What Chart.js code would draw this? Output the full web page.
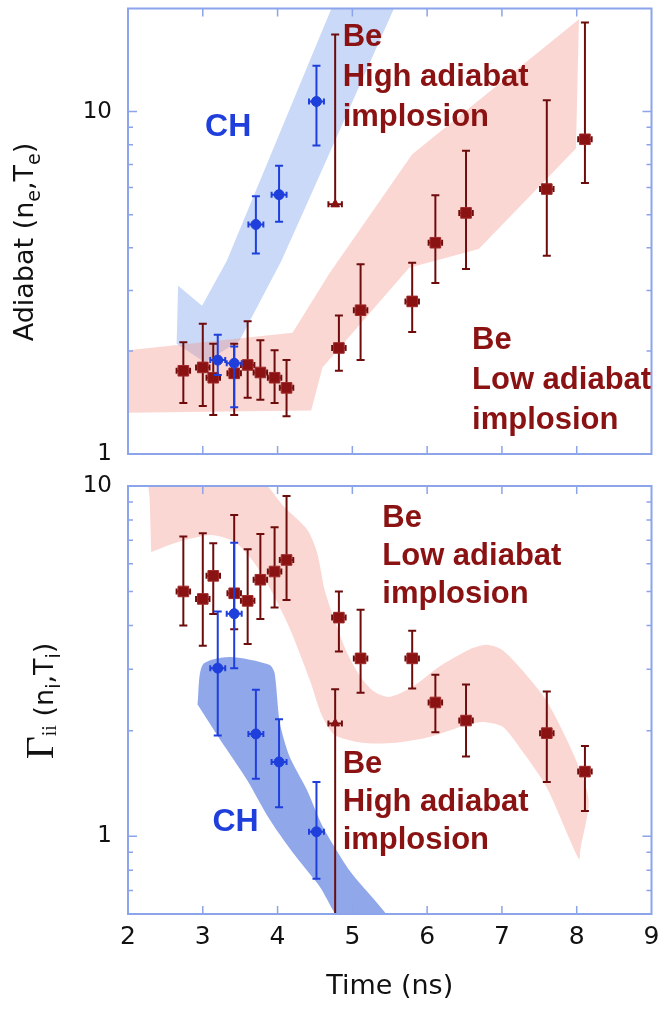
<!DOCTYPE html>
<html>
<head>
<meta charset="utf-8">
<script src="https://cdn.jsdelivr.net/npm/chart.js@4.4.1/dist/chart.umd.min.js"></script>
<style>
  html, body { margin: 0; padding: 0; background: #fff; }
  #wrap { position: relative; width: 660px; height: 1017px; }
  canvas { position: absolute; left: 0; }
</style>
</head>
<body>
<div id="wrap">
  <canvas id="adiabatChart" width="660" height="470" style="top:0"></canvas>
  <canvas id="gammaChart" width="660" height="547" style="top:470px"></canvas>
</div>
<script>
// ---- data ----
const beLowTime = [2.74, 3.0, 3.14, 3.42, 3.6, 3.77, 3.96, 4.12, 4.82, 5.11, 5.8, 6.11, 6.52, 7.6, 8.11];
const beLowAdiabat = [1.75, 1.79, 1.67, 1.72, 1.82, 1.73, 1.67, 1.56, 2.04, 2.63, 2.79, 4.14, 5.06, 5.94, 8.3];
const beLowAdiabatHi = [2.12, 2.4, 2.1, 2.1, 2.44, 2.15, 2.01, 1.88, 2.54, 3.58, 3.62, 5.7, 7.69, 10.8, 18.2];
const beLowAdiabatLo = [1.41, 1.38, 1.3, 1.3, 1.46, 1.44, 1.41, 1.29, 1.75, 1.88, 2.27, 3.16, 3.47, 3.79, 6.19];
const beLowGamma = [5.0, 4.76, 5.54, 4.94, 4.7, 5.4, 5.7, 6.15, 4.21, 3.22, 3.22, 2.41, 2.14, 1.97, 1.53];
const beLowGammaHi = [7.17, 7.33, 6.86, 8.26, 6.6, 7.3, 7.62, 9.36, 5.0, 4.43, 3.86, 2.89, 2.71, 2.59, 1.81];
const beLowGammaLo = [4.0, 3.5, 4.31, 3.9, 3.54, 4.17, 4.5, 4.73, 3.37, 2.57, 2.64, 1.98, 1.69, 1.43, 1.18];

const chTime = [3.2, 3.42, 3.71, 4.02, 4.52];
const chAdiabat = [1.88, 1.84, 4.68, 5.72, 10.7];
const chAdiabatHi = [2.23, 2.06, 5.66, 6.95, 13.6];
const chAdiabatLo = [1.7, 1.37, 3.85, 4.77, 7.96];
const chGamma = [3.02, 4.32, 1.96, 1.63, 1.03];
const chGammaHi = [4.38, 6.89, 2.62, 2.16, 1.43];
const chGammaLo = [1.94, 3.02, 1.46, 1.21, 0.757];

const beHighTime = [4.77];
const beHighAdiabat = [5.36];
const beHighAdiabatHi = [16.8];
const beHighAdiabatLo = [5.3];
const beHighGamma = [2.1];
const beHighGammaHi = [2.63];
const beHighGammaLo = [0.4];

// shaded simulation bands (outline, time / value)
const chBandAdiabatT = [4.76, 5.6, 4.29, 4.05, 3.49, 3.03, 2.65, 2.67, 2.99, 3.32];
const chBandAdiabatV = [21, 21, 4.79, 3.66, 2.14, 1.85, 2.1, 3.1, 2.71, 3.66];
const beBandAdiabatT = [1.9, 4.2, 4.69, 5.8, 8.03, 7.99, 6.69, 5.76, 4.6, 4.45, 1.9];
const beBandAdiabatV = [2.0, 2.26, 3.36, 7.5, 18.6, 7.8, 3.97, 3.5, 1.79, 1.34, 1.32];
const chBandGammaT = [2.93, 3.0, 3.36, 3.89, 3.96, 4.03, 4.16, 4.39, 4.6, 4.96, 5.55, 4.92, 4.56, 4.2, 3.89, 3.59, 3.23];
const chBandGammaV = [2.38, 3.09, 3.25, 3.09, 2.93, 2.11, 1.69, 1.36, 1.07, 0.8, 0.55, 0.55, 0.72, 0.9, 1.12, 1.45, 1.89];
const beBandGammaT = [2.29, 2.3, 3.73, 4.09, 4.4, 4.53, 4.63, 4.76, 4.93, 5.11, 5.29, 5.49, 5.8, 6.16, 6.56, 6.79, 7.0, 7.23, 7.59, 7.96, 8.16, 8.05,
  8.03, 7.59, 7.19, 7.0, 6.73, 6.47, 6.03, 5.59, 5.13, 4.76, 4.59, 4.43, 4.17, 3.91, 3.69, 3.43, 3.11, 2.67, 2.31];
const beBandGammaV = [9.12, 10.5, 10.5, 8.71, 7.49, 6.44, 5.05, 4.15, 3.34, 2.85, 2.59, 2.5, 2.67, 3.05, 3.41, 3.52, 3.41, 3.05, 2.45, 1.71, 1.27, 0.92,
  0.86, 1.39, 1.85, 2.06, 2.12, 2.06, 1.92, 1.85, 1.85, 1.95, 2.22, 2.8, 3.89, 5.05, 6.03, 6.92, 7.25, 6.92, 6.48];

const timeTicks = [2, 3, 4, 5, 6, 7, 8, 9];
const adiabatTicks = [1, 2, 3, 4, 5, 6, 7, 8, 9, 10, 20];
const gammaTicks = [0.6, 0.7, 0.8, 0.9, 1, 2, 3, 4, 5, 6, 7, 8, 9, 10];
const labelledTicks = [1, 10];

const RED = "#8a1212";
const RED_BAR = "#6e0c0c";
const BLUE = "#1f3fdc";
const FRAME = "#8ca4ea";

const noteFont = "bold 31px 'Liberation Sans', Arial, sans-serif";
const chFont = "bold 32px 'Liberation Sans', Arial, sans-serif";
const titleFont = "27px 'DejaVu Sans', sans-serif";
const subFont = "19px 'DejaVu Sans', sans-serif";

const adiabatNotes = [
    { lines: ["Be", "High adiabat", "implosion"], x: 4.87, y: 15.5, step: 40, color: RED, font: noteFont },
    { lines: ["CH"], x: 3.03, y: 8.46, step: 0, color: BLUE, font: chFont },
    { lines: ["Be", "Low adiabat", "implosion"], x: 6.6, y: 2.03, step: 40, color: RED, font: noteFont }
];
const gammaNotes = [
    { lines: ["Be", "Low adiabat", "implosion"], x: 5.4, y: 7.64, step: 38, color: RED, font: noteFont },
    { lines: ["Be", "High adiabat", "implosion"], x: 4.87, y: 1.52, step: 38, color: RED, font: noteFont },
    { lines: ["CH"], x: 3.13, y: 1.038, step: 0, color: BLUE, font: chFont }
];
const adiabatTitle = [
    { text: "Adiabat (n", font: titleFont },
    { text: "e", font: subFont, shift: 7 },
    { text: ",T", font: titleFont },
    { text: "e", font: subFont, shift: 7 },
    { text: ")", font: titleFont }
];
const gammaTitle = [
    { text: "\u0393", font: "40px 'Liberation Serif', serif" },
    { text: "ii", font: "20px 'Liberation Serif', serif", shift: 3 },
    { text: " (n", font: titleFont },
    { text: "i", font: subFont, shift: 7 },
    { text: ",T", font: titleFont },
    { text: "i", font: subFont, shift: 7 },
    { text: ")", font: titleFont }
];

function points(xs, ys) {
    return xs.map((x, i) => ({ x: x, y: ys[i] }));
}

const errorBars = {
    id: "errorBars",
    beforeDatasetDraw(chart, args) {
        const ds = chart.data.datasets[args.index];
        if (!ds.yLo) return;
        const { ctx, chartArea, scales } = chart;
        const x = scales.x, y = scales.y;
        ctx.save();
        ctx.beginPath();
        ctx.rect(chartArea.left, chartArea.top, chartArea.width, chartArea.height);
        ctx.clip();
        ctx.strokeStyle = ds.errColor;
        ctx.lineWidth = 2;
        ds.data.forEach((p, i) => {
            const px = x.getPixelForValue(p.x);
            const py = y.getPixelForValue(p.y);
            const top = y.getPixelForValue(ds.yHi[i]);
            const bot = y.getPixelForValue(ds.yLo[i]);
            const left = x.getPixelForValue(p.x - ds.xErr);
            const right = x.getPixelForValue(p.x + ds.xErr);
            ctx.beginPath();
            ctx.moveTo(px, top); ctx.lineTo(px, bot);
            ctx.moveTo(px - 4, top); ctx.lineTo(px + 4, top);
            ctx.moveTo(px - 4, bot); ctx.lineTo(px + 4, bot);
            ctx.moveTo(left, py); ctx.lineTo(right, py);
            ctx.moveTo(left, py - 3); ctx.lineTo(left, py + 3);
            ctx.moveTo(right, py - 3); ctx.lineTo(right, py + 3);
            ctx.stroke();
        });
        ctx.restore();
    }
};

function drawRotatedTitle(ctx, parts, baseX, centerY) {
    const widths = parts.map(p => { ctx.font = p.font; return ctx.measureText(p.text).width; });
    const total = widths.reduce((s, w) => s + w, 0);
    ctx.save();
    ctx.translate(baseX, centerY);
    ctx.rotate(-Math.PI / 2);
    ctx.fillStyle = "#111";
    ctx.textAlign = "left";
    ctx.textBaseline = "alphabetic";
    let cx = -total / 2;
    parts.forEach((p, i) => {
        ctx.font = p.font;
        ctx.fillText(p.text, cx, p.shift || 0);
        cx += widths[i];
    });
    ctx.restore();
}

// frame with inward ticks, notes and the axis title
function makeDecorations(yTicks, notes, title, titleX, titleY) {
    return {
        id: "decorations",
        afterDatasetsDraw(chart) {
            const { ctx, chartArea: a, scales } = chart;
            ctx.save();
            ctx.strokeStyle = FRAME;
            ctx.lineWidth = 1.5;
            ctx.beginPath();
            timeTicks.slice(1, -1).forEach(t => {
                const px = scales.x.getPixelForValue(t);
                ctx.moveTo(px, a.top); ctx.lineTo(px, a.top + 8);
                ctx.moveTo(px, a.bottom); ctx.lineTo(px, a.bottom - 8);
            });
            yTicks.forEach(v => {
                if (v <= scales.y.min || v >= scales.y.max) return;
                const py = scales.y.getPixelForValue(v);
                const len = labelledTicks.includes(v) ? 9 : 5;
                ctx.moveTo(a.left, py); ctx.lineTo(a.left + len, py);
                ctx.moveTo(a.right, py); ctx.lineTo(a.right - len, py);
            });
            ctx.stroke();
            ctx.lineWidth = 2;
            ctx.strokeRect(a.left, a.top, a.width, a.height);
            ctx.restore();
        },
        afterDraw(chart) {
            const { ctx, scales } = chart;
            ctx.save();
            ctx.textBaseline = "alphabetic";
            ctx.textAlign = "left";
            notes.forEach(n => {
                const px = scales.x.getPixelForValue(n.x);
                const py = scales.y.getPixelForValue(n.y);
                ctx.fillStyle = n.color;
                ctx.font = n.font;
                n.lines.forEach((line, i) => ctx.fillText(line, px, py + i * n.step));
            });
            ctx.restore();
            drawRotatedTitle(ctx, title, titleX, titleY);
        }
    };
}

function bandDataset(xs, ys, color, tension) {
    return {
        data: points(xs, ys),
        fill: "shape",
        backgroundColor: color,
        borderWidth: 0,
        pointRadius: 0,
        tension: tension,
        order: 5
    };
}

function markerDatasets(vals, lo, hi, highVals, highLo, highHi, chVals, chLo, chHi) {
    return [
        {
            data: points(beLowTime, vals), yLo: lo, yHi: hi, xErr: 0.09, errColor: RED_BAR,
            showLine: false, pointStyle: "rect", pointRadius: 7.5,
            backgroundColor: RED, borderColor: "#a02a2a", borderWidth: 1, order: 1
        },
        {
            data: points(beHighTime, highVals), yLo: highLo, yHi: highHi, xErr: 0.09, errColor: RED_BAR,
            showLine: false, pointStyle: "triangle", pointRadius: 5,
            backgroundColor: RED, borderColor: RED, borderWidth: 1, order: 1
        },
        {
            data: points(chTime, chVals), yLo: chLo, yHi: chHi, xErr: 0.1, errColor: BLUE,
            showLine: false, pointStyle: "circle", pointRadius: 5,
            backgroundColor: BLUE, borderColor: BLUE, borderWidth: 1, order: 0
        }
    ];
}

function yScale(min, max, tickValues) {
    return {
        type: "logarithmic",
        min: min,
        max: max,
        afterBuildTicks: (scale) => { scale.ticks = tickValues.map(v => ({ value: v })); },
        afterFit: (scale) => {
            scale.width = 128;
            scale.paddingTop = 0;
            scale.paddingBottom = 0;
        },
        grid: { display: false, drawTicks: false },
        border: { display: false },
        ticks: {
            autoSkip: false,
            padding: 16,
            color: "#111",
            font: { family: "'DejaVu Sans', sans-serif", size: 23 },
            callback: (v) => labelledTicks.includes(v) ? String(v) : ""
        }
    };
}

Chart.defaults.animation = false;

new Chart(document.getElementById("adiabatChart"), {
    type: "line",
    data: {
        datasets: [
            bandDataset(beBandAdiabatT, beBandAdiabatV, "rgba(245,150,140,0.38)", 0),
            bandDataset(chBandAdiabatT, chBandAdiabatV, "rgba(120,160,235,0.4)", 0),
            ...markerDatasets(beLowAdiabat, beLowAdiabatLo, beLowAdiabatHi,
                beHighAdiabat, beHighAdiabatLo, beHighAdiabatHi, chAdiabat, chAdiabatLo, chAdiabatHi)
        ]
    },
    options: {
        responsive: false,
        devicePixelRatio: 1,
        layout: { padding: { top: 7, right: 7, bottom: 16, left: 0 } },
        scales: {
            x: { type: "linear", min: 2, max: 9, display: false },
            y: yScale(1, 20, adiabatTicks)
        },
        plugins: { legend: { display: false }, tooltip: { enabled: false } }
    },
    plugins: [errorBars, makeDecorations(adiabatTicks, adiabatNotes, adiabatTitle, 33, 242)]
});

new Chart(document.getElementById("gammaChart"), {
    type: "line",
    data: {
        datasets: [
            bandDataset(beBandGammaT, beBandGammaV, "rgba(245,150,140,0.38)", 0.25),
            bandDataset(chBandGammaT, chBandGammaV, "rgba(70,110,220,0.6)", 0.25),
            ...markerDatasets(beLowGamma, beLowGammaLo, beLowGammaHi,
                beHighGamma, beHighGammaLo, beHighGammaHi, chGamma, chGammaLo, chGammaHi)
        ]
    },
    options: {
        responsive: false,
        devicePixelRatio: 1,
        layout: { padding: { top: 16, right: 7, bottom: 0, left: 0 } },
        scales: {
            x: {
                type: "linear",
                min: 2,
                max: 9,
                afterBuildTicks: (scale) => { scale.ticks = timeTicks.map(v => ({ value: v })); },
                afterFit: (scale) => {
                    scale.height = 103;
                    scale.paddingLeft = 0;
                    scale.paddingRight = 0;
                },
                grid: { display: false, drawTicks: false },
                border: { display: false },
                ticks: { autoSkip: false, maxRotation: 0, padding: 8, color: "#111", font: { family: "'DejaVu Sans', sans-serif", size: 25 } },
                title: {
                    display: true,
                    text: "Time (ns)",
                    color: "#111",
                    font: { family: "'DejaVu Sans', sans-serif", size: 27 },
                    padding: { top: 0, bottom: 14 }
                }
            },
            y: yScale(0.6, 10, gammaTicks)
        },
        plugins: { legend: { display: false }, tooltip: { enabled: false } }
    },
    plugins: [errorBars, makeDecorations(gammaTicks, gammaNotes, gammaTitle, 53, 231)]
});
</script>
</body>
</html>
